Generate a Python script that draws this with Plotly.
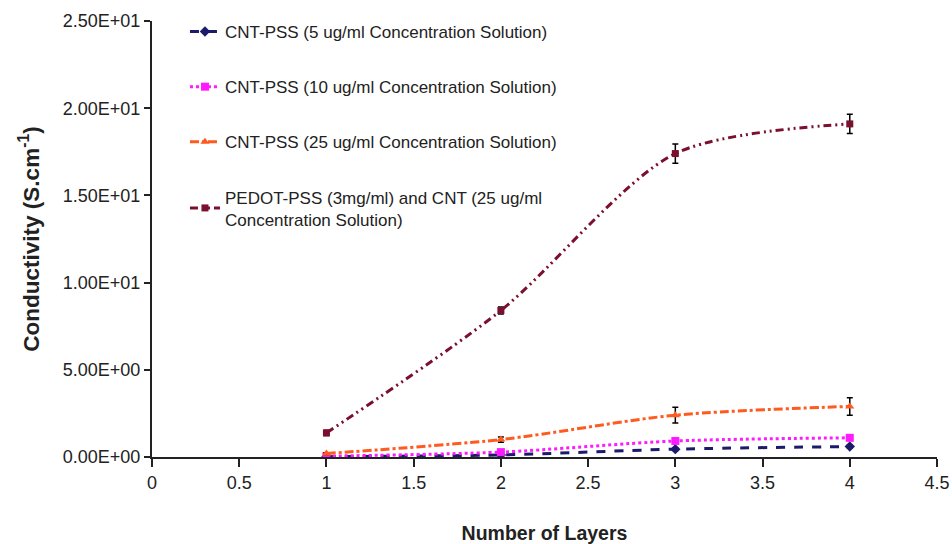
import plotly.graph_objects as go

layers = [1, 2, 3, 4]
names = [
    "CNT-PSS (5 ug/ml Concentration Solution)",
    "CNT-PSS (10 ug/ml Concentration Solution)",
    "CNT-PSS (25 ug/ml Concentration Solution)",
    "PEDOT-PSS (3mg/ml) and CNT (25 ug/ml<br>Concentration Solution)",
]
cnt5 = [0.02, 0.12, 0.45, 0.6]
cnt5_err = [0.02, 0.03, 0.08, 0.08]
cnt10 = [0.05, 0.28, 0.92, 1.1]
cnt10_err = [0.03, 0.05, 0.1, 0.12]
cnt25 = [0.2, 1.0, 2.4, 2.9]
cnt25_err = [0.05, 0.15, 0.45, 0.5]
pedot = [1.38, 8.4, 17.4, 19.1]
pedot_err = [0.15, 0.2, 0.55, 0.55]

yticks = [0, 5, 10, 15, 20, 25]
yticktext = ["0.00E+00", "5.00E+00", "1.00E+01", "1.50E+01", "2.00E+01", "2.50E+01"]
xticks = [0, 0.5, 1, 1.5, 2, 2.5, 3, 3.5, 4, 4.5]
xticktext = ["0", "0.5", "1", "1.5", "2", "2.5", "3", "3.5", "4", "4.5"]

series = [
    (cnt5, cnt5_err, "#1b1a6b", "dash", "diamond", 8),
    (cnt10, cnt10_err, "#ff1aff", "dot", "square", 8),
    (cnt25, cnt25_err, "#ff5a1f", "dashdot", "triangle-up", 8),
    (pedot, pedot_err, "#7a0f2e", "8px,4px,2px,4px,2px,4px", "square", 7),
]

fig = go.Figure()
for i, (vals, errs, col, dash, sym, ms) in enumerate(series):
    fig.add_trace(go.Scatter(
        x=layers, y=vals, name=names[i], legendgroup=str(i),
        mode="lines+markers",
        line=dict(color=col, width=3, dash=dash, shape="spline", smoothing=0.8),
        marker=dict(color=col, symbol=sym, size=ms),
        error_y=dict(type="data", array=errs, visible=True, color="black",
                     thickness=1.5, width=3),
    ))

fig.update_layout(
    width=952, height=544,
    margin=dict(l=152, r=15, t=21, b=87),
    paper_bgcolor="white", plot_bgcolor="white",
    font=dict(family="Liberation Sans, Arial, sans-serif", color="#222222", size=18),
    showlegend=True,
    legend=dict(x=0.042, y=1.016, xanchor="left", yanchor="top",
                bgcolor="rgba(0,0,0,0)", font=dict(size=17),
                tracegroupgap=30, itemwidth=30),
    xaxis=dict(range=[0, 4.5], tickvals=xticks, ticktext=xticktext,
               showline=True, linecolor="#222222", linewidth=2,
               ticks="outside", ticklen=8, tickcolor="#222222", tickwidth=2,
               showgrid=False, zeroline=False, tickfont=dict(size=18),
               automargin=False,
               title=dict(text="<b>Number of Layers</b>", standoff=35,
                          font=dict(size=19.5))),
    yaxis=dict(range=[0, 25], tickvals=yticks, ticktext=yticktext,
               showline=True, linecolor="#222222", linewidth=2,
               ticks="outside", ticklen=6, tickcolor="#222222", tickwidth=2,
               showgrid=False, zeroline=False, tickfont=dict(size=18),
               automargin=False,
               title=dict(text="<b>Conductivity (S.cm<sup>-1</sup>)</b>", standoff=17,
                          font=dict(size=22.5))),
)

fig.write_html("out.html")
